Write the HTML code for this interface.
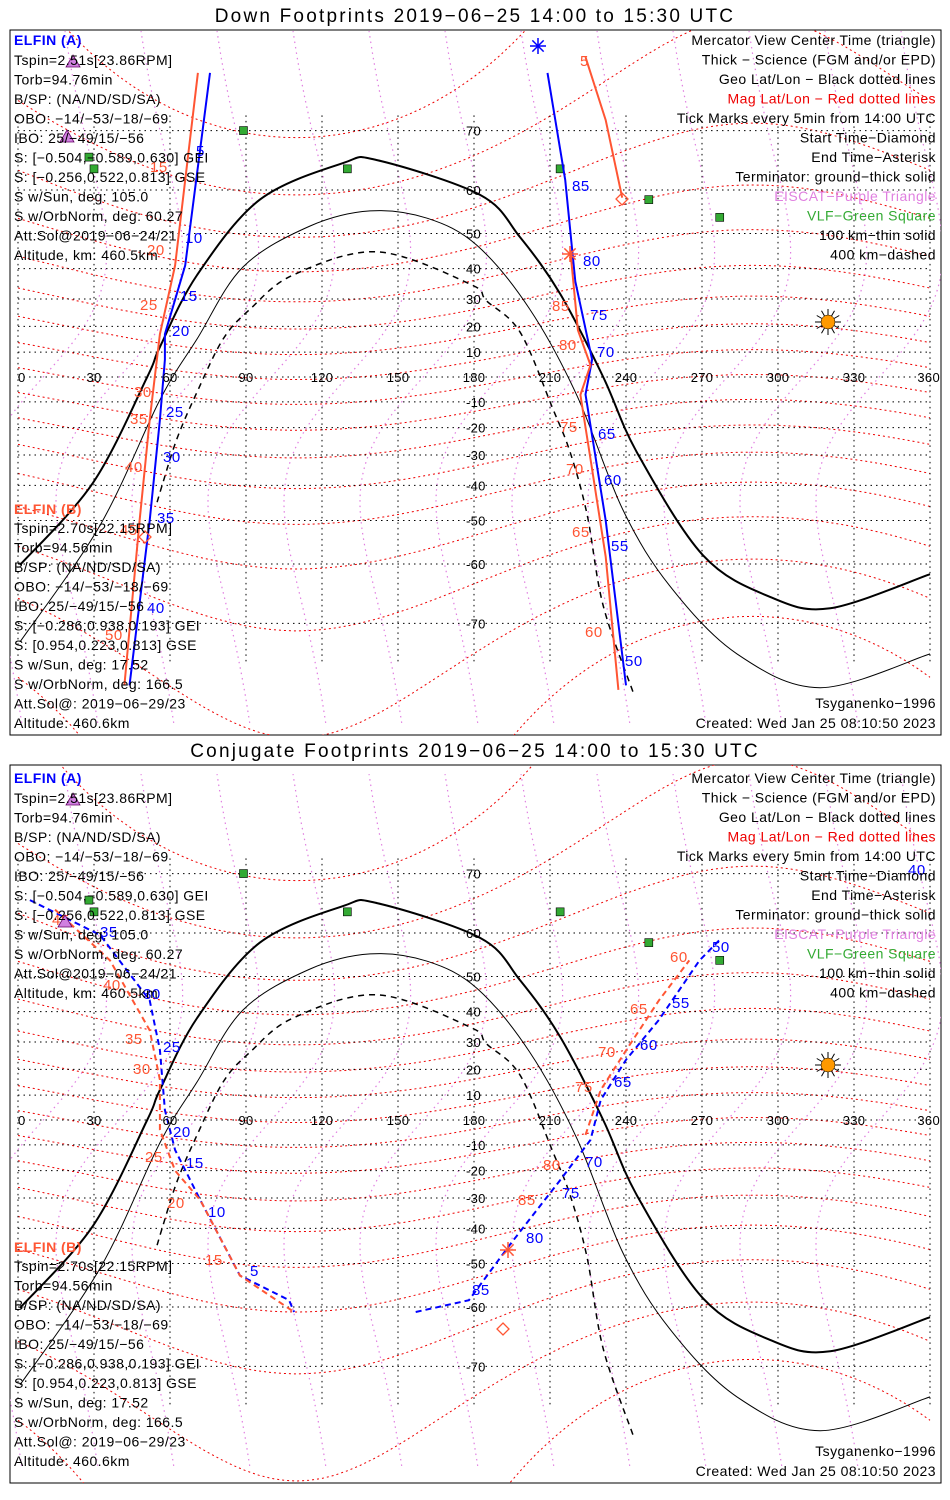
<!DOCTYPE html>
<html><head><meta charset="utf-8"><style>
body{margin:0;background:#fff;width:950px;height:1500px;overflow:hidden}
svg{display:block}
text{font-family:"Liberation Sans",sans-serif}
</style></head><body>
<svg id="c" width="950" height="1500" xmlns="http://www.w3.org/2000/svg"></svg>
<script>
// ---------- data ----------
const lonTicks=[0,30,60,90,120,150,180,210,240,270,300,330,360];
const latTicks=[70,60,50,40,30,20,10,-10,-20,-30,-40,-50,-60,-70];
const termThickLon=[0.8,29.6,51,56,70.7,95.5,128.3,141.7,182.4,198.2,214,231,244.4,270.4,296.9,320.6,360];
const termThickLat=[-60.2,-39.2,0,12,38,58,65,65.5,59,49,31.8,0,-29.2,-58.2,-66,-67.8,-62];
const termThinLon=[0.8,32.4,56,70.7,88.8,115.3,139,161.5,181.2,202,220.7,238.8,257.4,283.8,316.6,360];
const termThinLat=[-72.4,-51.2,-9.2,15.2,40.5,51.9,55.5,53.8,46.8,26.4,-7.6,-47.2,-64.2,-73.8,-77.2,-73.8];
const termDashLon=[54.9,57.2,62.8,70.7,81,91.6,108.6,141.7,178.4,185,198.2,211,218,224.6,231,242.8];
const termDashLat=[-45,-39.2,-24,-6,15.2,26.4,38,45,35.1,29.3,17.8,-12.4,-29.2,-48.3,-67.4,-77.6];
// top panel tracks (lon, lat)
const topALeftLon=[75.8,66,58,58,56,52,44];
const topALeftLat=[76.6,41,17,7,-17,-50,-77];
const topBLeftLon=[71,62,56,52,48,42];
const topBLeftLat=[76.6,41,17,-17,-50,-77];
const topARightLon=[209,216,220,226.6,224,232,240];
const topARightLat=[76.6,62,36,7,-7,-50,-77];
const topBRight1Lon=[224,232,238.5];
const topBRight1Lat=[78,71.4,58.4];
const topBRight2Lon=[218,221,226,222,226,232,237];
const topBRight2Lat=[45.5,18.6,4.8,-7.2,-31.4,-58.5,-77.4];
// conjugate tracks
const botALeftLon=[4.7,32.4,52,56,58,62,72,87.6,107,109];
const botALeftLat=[66,59.6,43.4,27.2,4,-12,-30.8,-53,-58.6,-61];
const botBLeftLon=[14.6,36.3,52,56,56,62,72,87.6,109];
const botBLeftLat=[64.4,54,34,16,-4,-20,-30.8,-53,-61];
const botARightLon=[157,178,194,214,226,230,240,253,269,277];
const botARightLat=[-61,-58.6,-45,-23.6,-8,8,23.6,37.4,54,58.6];
const botBRightLon=[224,230,240,253,265];
const botBRightLat=[-6,12,27,43.4,54];
const vlfLon=[89,130,28,30,214,249,277];
const vlfLat=[70,64,66,64,64,58,54];

// ---------- helpers ----------
const NS="http://www.w3.org/2000/svg";
const svg=document.getElementById('c');
const X=lon=>18+lon*912/360;
const Y=(lat,oy)=>oy-142*Math.log(Math.tan(Math.PI/4+lat*Math.PI/360));
function el(tag,attrs,parent){const e=document.createElementNS(NS,tag);for(const k in attrs)e.setAttribute(k,attrs[k]);(parent||svg).appendChild(e);return e;}
function txt(x,y,s,fill,size,anchor,parent,ls){const t=el('text',{x:x,y:y,fill:fill,'font-size':size||14,'text-anchor':anchor||'start','letter-spacing':ls===undefined?0.45:ls},parent);t.textContent=s;return t;}
function smooth(pts){
  let d='M'+pts[0][0].toFixed(1)+','+pts[0][1].toFixed(1);
  for(let i=0;i<pts.length-1;i++){
    const p0=pts[Math.max(0,i-1)],p1=pts[i],p2=pts[i+1],p3=pts[Math.min(pts.length-1,i+2)];
    const c1=[p1[0]+(p2[0]-p0[0])/6,p1[1]+(p2[1]-p0[1])/6],c2=[p2[0]-(p3[0]-p1[0])/6,p2[1]-(p3[1]-p1[1])/6];
    d+='C'+c1[0].toFixed(1)+','+c1[1].toFixed(1)+' '+c2[0].toFixed(1)+','+c2[1].toFixed(1)+' '+p2[0].toFixed(1)+','+p2[1].toFixed(1);
  }
  return d;
}

function panel(p){
  const g=el('g',{});
  
  
  const cid='clip'+p.oy;
  const cp=el('clipPath',{id:cid},g);
  el('rect',{x:10,y:p.top,width:931,height:p.bot-p.top},cp);
  const tt=txt(475,p.top-8,p.title,'#000',19,'middle',g,2.2);
  
  
  const frame=el('rect',{x:10,y:p.top,width:931,height:p.bot-p.top,fill:'none',stroke:'#000','stroke-width':1},g);
  
  
  const m=el('g',{'clip-path':'url(#'+cid+')'},g);
  for(let k=0;k<12;k++){
    let d='';for(let la=-80;la<=80;la+=2){const lo=k*30+10+25*Math.sin(la*Math.PI/90);d+=(d?'L':'M')+X(lo).toFixed(1)+','+Y(la,p.oy).toFixed(1);}
    const pl=el('path',{d:d,fill:'none',stroke:'#e07ee0','stroke-width':1.2,'stroke-dasharray':'1.5 4'},m);
    
    
  }
  for(let ml=-80;ml<=80;ml+=10){
    let d='';for(let lo=0;lo<=360;lo+=5){const la=ml+11*Math.cos((lo-290)*Math.PI/180);if(Math.abs(la)>84)continue;d+=(d?'L':'M')+X(lo).toFixed(1)+','+Y(la,p.oy).toFixed(1);}
    const pl=el('path',{d:d,fill:'none',stroke:'#e00','stroke-width':1,'stroke-dasharray':'2 3'},m);
    
    
  }
  lonTicks.forEach(lo=>{
    const l=el('line',{x1:X(lo),x2:X(lo),y1:Y(72,p.oy),y2:Y(-75,p.oy),stroke:'#000','stroke-dasharray':'1.5 4'},m);
    
    
    const t=txt(X(lo),p.oy+5,String(lo),'#000',13,lo===0?'start':(lo===360?'end':'middle'),g,0.3);
    if(lo===360)t.setAttribute('x',940);
    
    
  });
  latTicks.concat([0]).forEach(la=>{
    const l=el('line',{x1:X(0),x2:X(360),y1:Y(la,p.oy),y2:Y(la,p.oy),stroke:'#000','stroke-dasharray':'1.5 4'},m);
    
    
  });
  latTicks.forEach(la=>{
    const t=txt(466,Y(la,p.oy)+5,String(la),'#000',13,'start',g,0.3);
    
    
  });
  const terms=[[termThickLon,termThickLat,2,'','terminator-ground'],[termThinLon,termThinLat,1,'','terminator-100km'],[termDashLon,termDashLat,1.5,'6 5','terminator-400km']];
  terms.forEach(tm=>{
    const pts=tm[0].map((lo,i)=>[X(lo),Y(tm[1][i],p.oy)]);
    const pl=el('path',{d:smooth(pts),fill:'none',stroke:'#000','stroke-width':tm[2],'stroke-dasharray':tm[3]},m);
    
    
  });
  vlfLon.forEach((lo,i)=>{
    const r=el('rect',{x:X(lo)-4,y:Y(vlfLat[i],p.oy)-4,width:8,height:8,fill:'#3a3',stroke:'#000','stroke-width':0.6},m);
    
    
  });
  p.tracks.forEach(tr=>{
    let d='';tr.lon.forEach((lo,i)=>{d+=(i?'L':'M')+X(lo).toFixed(1)+','+Y(tr.lat[i],p.oy).toFixed(1);});
    const pl=el('path',{d:d,fill:'none',stroke:tr.c,'stroke-width':2,'stroke-dasharray':tr.dash||''},m);
    
    
  });
  p.labels.forEach(l=>{
    const t=txt(l[0],l[1],l[2],l[3],15,'start',g,0.5);
    
    
  });
  const sx=828,sy=p.oy-55;
  const sg=el('g',{},g);
  
  
  for(let a=0;a<360;a+=30){const r=a*Math.PI/180;el('line',{x1:sx+7*Math.cos(r),y1:sy+7*Math.sin(r),x2:sx+13*Math.cos(r),y2:sy+13*Math.sin(r),stroke:'#000','stroke-width':1},sg);}
  el('circle',{cx:sx,cy:sy,r:7,fill:'#f90',stroke:'#000','stroke-width':0.5},sg);
  p.markers.forEach(mk=>{
    const mg=el('g',{},g);
    
    
    if(mk.t==='ast'){for(let a=0;a<180;a+=45){const r=a*Math.PI/180;el('line',{x1:mk.x-8*Math.cos(r),y1:mk.y-8*Math.sin(r),x2:mk.x+8*Math.cos(r),y2:mk.y+8*Math.sin(r),stroke:mk.c,'stroke-width':1.5},mg);}}
    else if(mk.t==='dia'){el('path',{d:`M${mk.x},${mk.y-6}L${mk.x+6},${mk.y}L${mk.x},${mk.y+6}L${mk.x-6},${mk.y}Z`,fill:'none',stroke:mk.c,'stroke-width':1.3},mg);}
    else {el('path',{d:`M${mk.x},${mk.y-7}L${mk.x+7},${mk.y+5}L${mk.x-7},${mk.y+5}Z`,fill:'#d080e0',stroke:'#606',"stroke-width":0.8},mg);}
  });
  const ty=p.ty;
  const A=['Tspin=2.51s[23.86RPM]','Torb=94.76min','B/SP: (NA/ND/SD/SA)','OBO: −14/−53/−18/−69','IBO: 25/−49/15/−56','S: [−0.504,−0.589,0.630] GEI','S: [−0.256,0.522,0.813] GSE','S w/Sun, deg: 105.0','S w/OrbNorm, deg: 60.27','Att.Sol@2019−06−24/21','Altitude, km: 460.5km'];
  const B=['Tspin=2.70s[22.15RPM]','Torb=94.56min','B/SP: (NA/ND/SD/SA)','OBO: −14/−53/−18/−69','IBO: 25/−49/15/−56','S: [−0.286,0.938,0.193] GEI','S: [0.954,0.223,0.813] GSE','S w/Sun, deg: 17.52','S w/OrbNorm, deg: 166.5','Att.Sol@: 2019−06−29/23','Altitude: 460.6km'];
  const R=[['Mercator View Center Time (triangle)','#000'],['Thick − Science (FGM and/or EPD)','#000'],['Geo Lat/Lon − Black dotted lines','#000'],['Mag Lat/Lon − Red dotted lines','#e00'],['Tick Marks every 5min from 14:00 UTC','#000'],['Start Time−Diamond','#000'],['End Time−Asterisk','#000'],['Terminator: ground−thick solid','#000'],['EISCAT−Purple Triangle','#e080e0'],['VLF−Green Square','#3a3'],['100 km−thin solid','#000'],['400 km−dashed','#000']];
  let t=txt(14,ty+45,'ELFIN (A)','#00f',14,'start',g);t.setAttribute('font-weight','bold');
  
  A.forEach((s,i)=>{const q=txt(14,ty+65+i*19.5,s,'#000',14,'start',g);});
  t=txt(14,ty+514,'ELFIN (B)','#f53',14,'start',g);t.setAttribute('font-weight','bold');
  
  B.forEach((s,i)=>{const q=txt(14,ty+533+i*19.5,s,'#000',14,'start',g);});
  R.forEach((r,i)=>{const q=txt(936,ty+45+i*19.5,r[0],r[1],14,'end',g);});
  t=txt(936,p.bot-27,'Tsyganenko−1996','#000',14,'end',g);
  t=txt(936,p.bot-7,'Created: Wed Jan 25 08:10:50 2023','#000',14,'end',g);
}

const blue='#00f',red='#f53';
panel({name:'down-footprints-panel',title:'Down Footprints 2019−06−25 14:00 to 15:30 UTC',top:30,bot:735,oy:377,ty:0,
 tracks:[
  {name:'elfin-a-track-1',lon:topALeftLon,lat:topALeftLat,c:blue},
  {name:'elfin-b-track-1',lon:topBLeftLon,lat:topBLeftLat,c:red},
  {name:'elfin-a-track-2',lon:topARightLon,lat:topARightLat,c:blue},
  {name:'elfin-b-track-2a',lon:topBRight1Lon,lat:topBRight1Lat,c:red},
  {name:'elfin-b-track-2b',lon:topBRight2Lon,lat:topBRight2Lat,c:red}],
 labels:[[196,156,'5',blue],[150,172,'15',red],[185,243,'10',blue],[147,255,'20',red],[180,301,'15',blue],[140,310,'25',red],[172,336,'20',blue],[134,397,'30',red],[166,417,'25',blue],[130,424,'35',red],[163,462,'30',blue],[125,472,'40',red],[157,523,'35',blue],[120,535,'45',red],[147,613,'40',blue],[105,640,'50',red],
  [580,66,'5',red],[572,191,'85',blue],[583,266,'80',blue],[552,311,'85',red],[590,320,'75',blue],[559,350,'80',red],[597,357,'70',blue],[560,432,'75',red],[598,439,'65',blue],[566,474,'70',red],[604,485,'60',blue],[572,537,'65',red],[611,551,'55',blue],[585,637,'60',red],[625,666,'50',blue]],
 markers:[{name:'end-asterisk-a',t:'ast',x:538,y:46,c:blue},{name:'end-asterisk-b',t:'ast',x:570,y:254,c:red},{name:'start-diamond-b',t:'dia',x:622,y:199,c:red},{name:'start-diamond-a',t:'dia',x:145,y:537,c:red},{name:'center-triangle-a',t:'tri',x:73,y:62},{name:'center-triangle-b',t:'tri',x:67,y:137}]});

panel({name:'conjugate-footprints-panel',title:'Conjugate Footprints 2019−06−25 14:00 to 15:30 UTC',top:765,bot:1483,oy:1120,ty:738,
 tracks:[
  {name:'elfin-a-conj-track-1',lon:botALeftLon,lat:botALeftLat,c:blue,dash:'6 4'},
  {name:'elfin-b-conj-track-1',lon:botBLeftLon,lat:botBLeftLat,c:red,dash:'6 4'},
  {name:'elfin-a-conj-track-2',lon:botARightLon,lat:botARightLat,c:blue,dash:'6 4'},
  {name:'elfin-b-conj-track-2',lon:botBRightLon,lat:botBRightLat,c:red,dash:'6 4'}],
 labels:[[100,937,'35',blue],[52,925,'45',red],[103,990,'40',red],[143,999,'30',blue],[125,1044,'35',red],[163,1052,'25',blue],[133,1074,'30',red],[173,1137,'20',blue],[145,1162,'25',red],[186,1168,'15',blue],[167,1208,'20',red],[208,1217,'10',blue],[205,1265,'15',red],[250,1276,'5',blue],[908,875,'40',blue],
  [712,952,'50',blue],[670,962,'60',red],[672,1008,'55',blue],[630,1014,'65',red],[640,1050,'60',blue],[598,1057,'70',red],[614,1087,'65',blue],[575,1092,'75',red],[585,1167,'70',blue],[543,1170,'80',red],[562,1198,'75',blue],[518,1205,'85',red],[526,1243,'80',blue],[472,1295,'85',blue]],
 markers:[{name:'end-asterisk',t:'ast',x:508,y:1250,c:red},{name:'start-diamond',t:'dia',x:503,y:1329,c:red},{name:'center-triangle-b',t:'tri',x:65,y:922},{name:'center-triangle-a',t:'tri',x:73,y:800}]});
</script>
</body></html>
